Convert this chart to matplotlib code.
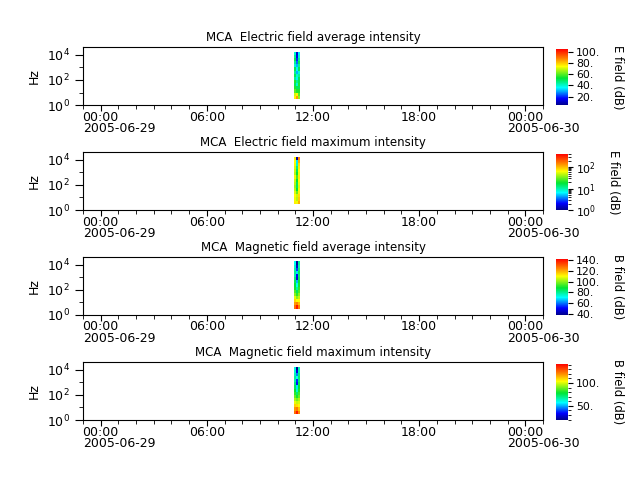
import matplotlib
matplotlib.use("Agg")
import matplotlib.pyplot as plt
import matplotlib.dates as mdates
import matplotlib.colors as mcolors
import matplotlib.ticker as mticker
import numpy as np
from datetime import datetime

# MCA channel frequencies (Hz)
freqs = [3.16, 5.62, 10.0, 17.8, 31.6, 56.2, 100.0, 178.0, 316.0, 562.0,
         1000.0, 1780.0, 3160.0, 5620.0, 10000.0, 17800.0]

# time bin edges
times = [datetime(2005, 6, 29, 10, 57), datetime(2005, 6, 29, 11, 3),
         datetime(2005, 6, 29, 11, 9), datetime(2005, 6, 29, 11, 15)]

# rows listed from highest frequency band down to lowest
e_avg = [[40, 12, 35], [45, 15, 40], [50, 20, 45], [45, 25, 50], [40, 30, 45],
         [50, 35, 50], [45, 30, 40], [50, 40, 45], [45, 35, 50], [55, 45, 50],
         [50, 40, 55], [55, 50, 50], [60, 55, 55], [70, 75, 60], [75, 85, 65]]
e_max = [[70, 1.2, 150], [65, 6, 110], [60, 8, 80], [55, 12, 70], [50, 15, 65],
         [45, 18, 60], [60, 25, 70], [50, 18, 65], [45, 15, 60], [40, 15, 55],
         [45, 18, 60], [55, 30, 70], [65, 50, 80], [60, 45, 90], [70, 60, 110]]
b_avg = [[72, 40, 80], [75, 45, 78], [78, 55, 82], [80, 68, 85], [78, 50, 83],
         [82, 48, 85], [85, 65, 88], [88, 72, 90], [90, 78, 92], [95, 85, 95],
         [100, 92, 100], [108, 100, 105], [115, 110, 110], [122, 125, 118],
         [128, 140, 125]]
b_max = [[60, 20, 65], [62, 30, 66], [65, 45, 70], [68, 58, 72], [66, 38, 70],
         [70, 35, 74], [74, 55, 78], [78, 62, 80], [82, 72, 84], [88, 80, 88],
         [95, 90, 95], [102, 98, 100], [110, 108, 105], [118, 122, 112],
         [125, 138, 120]]

titles = ["MCA  Electric field average intensity",
          "MCA  Electric field maximum intensity",
          "MCA  Magnetic field average intensity",
          "MCA  Magnetic field maximum intensity"]
cb_labels = ["E field (dB)", "E field (dB)", "B field (dB)", "B field (dB)"]

cmap = mcolors.LinearSegmentedColormap.from_list("mca", [
    (0.0, (0.0, 0.0, 0.55)), (0.12, (0.0, 0.0, 1.0)), (0.31, (0.0, 1.0, 1.0)),
    (0.48, (0.0, 0.9, 0.2)), (0.69, (1.0, 1.0, 0.0)), (0.82, (1.0, 0.55, 0.0)),
    (1.0, (1.0, 0.0, 0.0))])

norms = [mcolors.Normalize(5, 105), mcolors.LogNorm(1, 420),
         mcolors.Normalize(38, 143), mcolors.Normalize(19, 142)]
data = [e_avg, e_max, b_avg, b_max]

fs = 9
fig = plt.figure(figsize=(6.4, 4.8), dpi=100)
bottoms = [0.781, 0.5625, 0.344, 0.125]
tnum = mdates.date2num(times)

for i in range(4):
    ax = fig.add_axes([0.1297, bottoms[i], 0.7188, 0.121])
    cax = fig.add_axes([0.869, bottoms[i], 0.019, 0.117])
    z = np.array(data[i], dtype=float)[::-1]
    mesh = ax.pcolormesh(tnum, freqs, z, cmap=cmap, norm=norms[i], shading="flat")
    ax.set_yscale("log")
    ax.set_ylim(1, 4.2e4)
    ax.set_yticks([1, 100, 1e4])
    ax.set_yticks([10, 1000], minor=True)
    ax.yaxis.set_minor_formatter(mticker.NullFormatter())
    ax.set_xlim(datetime(2005, 6, 28, 23, 0), datetime(2005, 6, 30, 1, 0))
    ax.xaxis.set_major_locator(mdates.HourLocator(byhour=[0, 6, 12, 18]))
    ax.xaxis.set_minor_locator(mdates.HourLocator(interval=1))
    ax.xaxis.set_major_formatter(mdates.DateFormatter("%H:%M"))
    ax.tick_params(which="major", length=6, labelsize=fs)
    ax.tick_params(axis="x", which="major", length=4, pad=0)
    ax.tick_params(which="minor", length=3)
    ax.set_ylabel("Hz", fontsize=fs)
    ax.set_title(titles[i], fontsize=8.5, pad=4)
    for d in [datetime(2005, 6, 29), datetime(2005, 6, 30)]:
        ax.annotate(d.strftime("%Y-%m-%d"), xy=(mdates.date2num(d), 0),
                    xycoords=("data", "axes fraction"), xytext=(-13, -12.5),
                    textcoords="offset points", ha="left", va="top", fontsize=fs)

    cb = fig.colorbar(mesh, cax=cax)
    if i == 0:
        cb.set_ticks([20, 40, 60, 80, 100])
        cb.ax.yaxis.set_major_formatter(mticker.FormatStrFormatter("%d."))
    elif i == 2:
        cb.set_ticks([40, 60, 80, 100, 120, 140])
        cb.ax.yaxis.set_major_formatter(mticker.FormatStrFormatter("%d."))
    elif i == 3:
        cb.set_ticks([50, 100])
        cb.ax.yaxis.set_minor_locator(mticker.MultipleLocator(10))
        cb.ax.yaxis.set_major_formatter(mticker.FormatStrFormatter("%d."))
    cb.ax.tick_params(labelsize=7.8, pad=2)
    cb.outline.set_visible(False)
    cb.set_label(cb_labels[i], rotation=270, fontsize=8.4, labelpad=17)

plt.savefig("out.png")
